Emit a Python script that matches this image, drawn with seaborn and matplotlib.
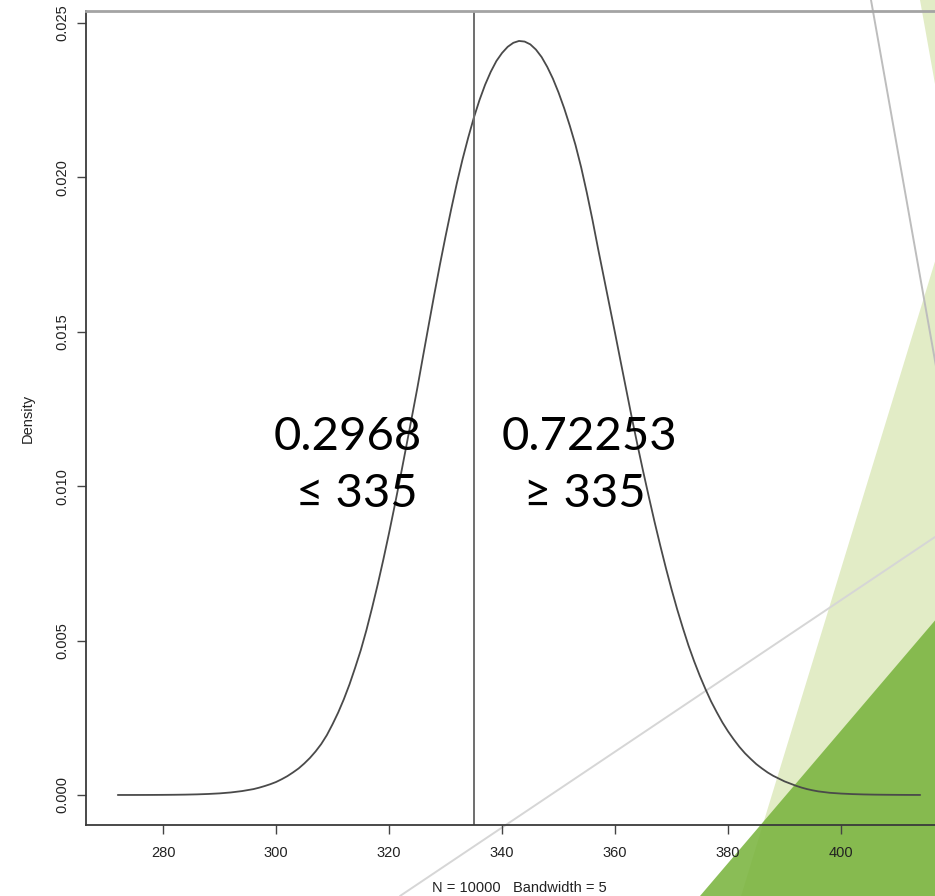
import matplotlib
matplotlib.use("Agg")
import matplotlib.pyplot as plt
import pandas as pd
import seaborn as sns
from matplotlib.patches import Polygon

# Kernel density estimate of the simulated totals (value, density)
value = [272, 274, 276, 278, 280, 282, 284, 286, 288, 290, 292, 294, 296,
         297, 298, 299, 300, 301, 302, 303, 304, 305, 306, 307, 308, 309,
         310, 311, 312, 313, 314, 315, 316, 317, 318, 319, 320, 321, 322,
         323, 324, 325, 326, 327, 328, 329, 330, 331, 332, 333, 334, 335,
         336, 337, 338, 339, 340, 341, 342, 343, 344, 345, 346, 347, 348,
         349, 350, 351, 352, 353, 354, 355, 356, 357, 358, 359, 360, 361,
         362, 363, 364, 365, 366, 367, 368, 369, 370, 371, 372, 373, 374,
         375, 376, 377, 378, 379, 380, 381, 382, 383, 384, 385, 386, 387,
         388, 389, 390, 391, 392, 393, 394, 395, 396, 398, 400, 402, 404,
         406, 408, 410, 412, 414]
density = [0.0000003, 0.0000005, 0.000001, 0.000002, 0.000004, 0.000007,
           0.000012, 0.000020, 0.000033, 0.000052, 0.000082, 0.000127,
           0.00019, 0.000236, 0.00029, 0.00035, 0.00042, 0.00051, 0.00061,
           0.00073, 0.00086, 0.00102, 0.00120, 0.00141, 0.00165, 0.00194,
           0.00229, 0.00267, 0.00310, 0.00358, 0.00412, 0.00469, 0.00534,
           0.00606, 0.00682, 0.00763, 0.00848, 0.00937, 0.01029, 0.01124,
           0.01220, 0.01317, 0.01419, 0.01520, 0.01620, 0.01717, 0.01809,
           0.01897, 0.01981, 0.02058, 0.02128, 0.02193, 0.02250, 0.02300,
           0.02342, 0.02377, 0.02403, 0.02423, 0.02436, 0.02442, 0.02440,
           0.02431, 0.02414, 0.02390, 0.02358, 0.02320, 0.02275, 0.02224,
           0.02167, 0.02105, 0.02033, 0.01951, 0.01863, 0.01769, 0.01678,
           0.01587, 0.01496, 0.01403, 0.01311, 0.01219, 0.01131, 0.01046,
           0.00964, 0.00884, 0.00808, 0.00735, 0.00666, 0.00601, 0.00541,
           0.00484, 0.00433, 0.00386, 0.00343, 0.00303, 0.00268, 0.00235,
           0.00206, 0.00180, 0.00156, 0.00135, 0.00117, 0.00100, 0.00086,
           0.00073, 0.00062, 0.00053, 0.00044, 0.00037, 0.00030, 0.00024,
           0.00019, 0.00015, 0.000116, 0.000071, 0.000046, 0.000029,
           0.000018, 0.000011, 0.000007, 0.000004, 0.000002, 0.000001]

cutoff = 335
share_below = "0.2968"
share_above = "0.72253"
x_ticks = [280, 300, 320, 340, 360, 380, 400]
y_ticks = [0.000, 0.005, 0.010, 0.015, 0.020, 0.025]
sample_size = 10000
bandwidth = 5

sns.set_style("ticks")
plt.rcParams["font.family"] = ["Liberation Sans", "DejaVu Sans"]

W, H = 935, 896
fig = plt.figure(figsize=(W / 100, H / 100), dpi=100)
fig.patch.set_facecolor("white")

# Slide backdrop drawn in pixel space: green facets and thin guide lines
bg = fig.add_axes([0, 0, 1, 1], zorder=0)
bg.set_xlim(0, W)
bg.set_ylim(H, 0)
bg.axis("off")
bg.add_patch(Polygon([(920, 0), (955, 196), (741, 896), (1100, 896), (1100, 0)],
                     closed=True, facecolor="#e2ecc6", edgecolor="none"))
bg.add_patch(Polygon([(700, 896), (1100, 427), (1100, 896)],
                     closed=True, facecolor="#7ab43f", alpha=0.88, edgecolor="none"))
bg.plot([871, 1030], [0, 896], color="#bdbdbd", lw=1.4)
bg.plot([400, 935], [896, 537], color="#d6d6d6", lw=1.4)

# Density plot
ax = fig.add_axes([86 / W, 1 - 825 / H, (953.5 - 86) / W, (825 - 11) / H], zorder=2)
ax.set_facecolor("none")
df = pd.DataFrame({"value": value, "density": density})
sns.lineplot(data=df, x="value", y="density", ax=ax, color="#4a4a4a",
             lw=1.3, estimator=None)
ax.axvline(cutoff, color="#6e6e6e", lw=1.4)

ax.set_xlim(266.37, 419.9)
ax.set_ylim(-0.000972, 0.02539)
ax.set_xticks(x_ticks)
ax.set_xticklabels([str(t) for t in x_ticks])
ax.set_yticks(y_ticks)
ax.set_yticklabels([f"{t:.3f}" for t in y_ticks], rotation=90, va="center")
ax.tick_params(direction="out", length=6.5, width=1.0, color="#444444",
               labelsize=10.5, labelcolor="#222222")
ax.tick_params(axis="x", pad=8.5)
ax.tick_params(axis="y", pad=5.5)

for side in ("left", "bottom", "right"):
    ax.spines[side].set_color("#3a3a3a")
    ax.spines[side].set_linewidth(1.3)
ax.spines["top"].set_color("#a4a4a4")
ax.spines["top"].set_linewidth(2.0)

ax.set_xlabel(f"N = {sample_size}   Bandwidth = {bandwidth}", fontsize=10.5,
              color="#222222")
ax.xaxis.set_label_coords(0.5, -0.0685)
ax.set_ylabel("Density", fontsize=10.5, color="#222222")
ax.yaxis.set_label_coords(-0.0595, 0.5)

# Tail probabilities either side of the cutoff
big = dict(fontsize=34, family=["Lato", "DejaVu Sans"], color="black",
           ha="center", va="baseline")
fig.text(348 / W, 1 - 450 / H, share_below, **big)
fig.text(356.7 / W, 1 - 506.7 / H, f"\u2264 {cutoff}", **big)
fig.text(589 / W, 1 - 450 / H, share_above, **big)
fig.text(585 / W, 1 - 506.7 / H, f"\u2265 {cutoff}", **big)

fig.savefig("out.png", dpi=100)
